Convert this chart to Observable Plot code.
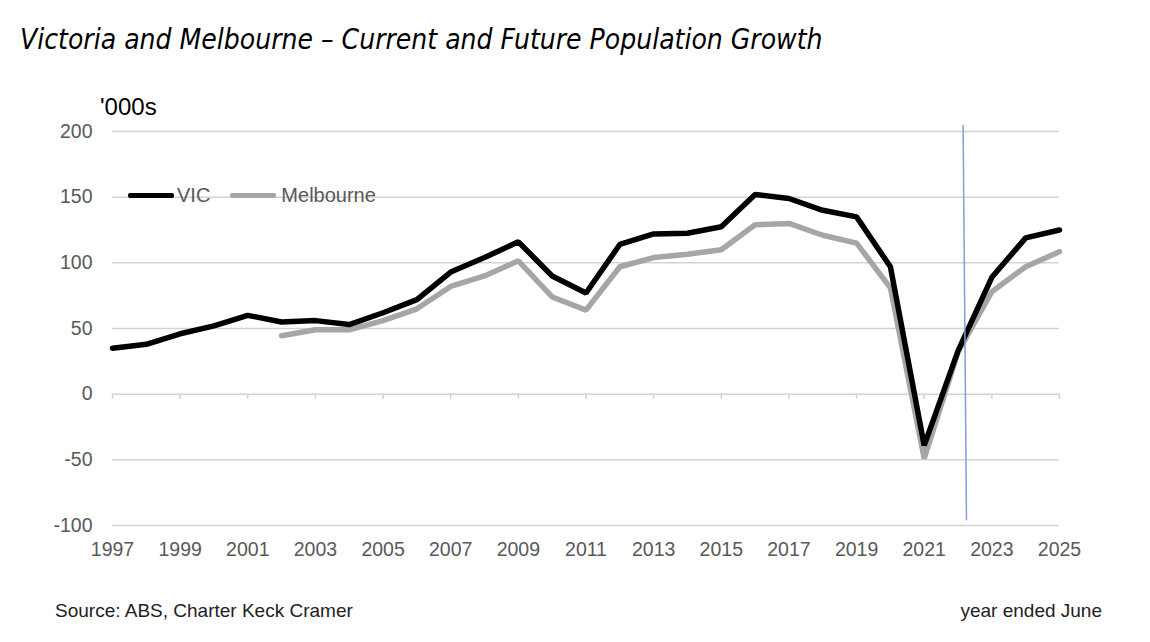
<!DOCTYPE html>
<html>
<head>
<meta charset="utf-8">
<script src="https://cdn.jsdelivr.net/npm/d3@7"></script>
<script src="https://cdn.jsdelivr.net/npm/@observablehq/plot@0.6"></script>
<style>
  html, body { margin: 0; padding: 0; background: #fff; }
  #wrap { position: relative; width: 1150px; height: 642px; overflow: hidden; font-family: "Liberation Sans", Arial, sans-serif; }
  #title { position: absolute; left: 20px; top: 26px; line-height: 1; font-family: "DejaVu Sans Condensed", "DejaVu Sans", sans-serif; font-style: italic; font-size: 28px; color: #000; white-space: nowrap; }
  #chart { position: absolute; left: 0; top: 75px; }
  #unit { position: absolute; left: 100px; top: 95px; line-height: 1; font-size: 24px; color: #000; }
  #legend { position: absolute; left: 128px; top: 185px; line-height: 1; display: flex; align-items: center; font-size: 20px; color: #595959; }
  .sw { display: inline-block; width: 46px; height: 5px; border-radius: 2px; }
  #source { position: absolute; left: 55px; top: 601px; line-height: 1; font-size: 19px; color: #222; }
  #note { position: absolute; right: 48px; top: 601px; line-height: 1; font-size: 19px; color: #222; }
</style>
</head>
<body>
<div id="wrap">
  <div id="title">Victoria and Melbourne – Current and Future Population Growth</div>
  <div id="chart"></div>
  <div id="unit">'000s</div>
  <div id="legend">
    <span class="sw" style="background:#000"></span><span style="margin-left:3px">VIC</span>
    <span class="sw" style="background:#a6a6a6; margin-left:20px"></span><span style="margin-left:5px">Melbourne</span>
  </div>
  <div id="source">Source: ABS, Charter Keck Cramer</div>
  <div id="note">year ended June</div>
</div>
<script>
const vicYears = [1997,1998,1999,2000,2001,2002,2003,2004,2005,2006,2007,2008,2009,2010,2011,2012,2013,2014,2015,2016,2017,2018,2019,2020,2021,2022,2023,2024,2025];
const vicValues = [35,38,46,52,60,55,56,53,62,72,93,104,116,90,77,114,122,122.5,127.5,152,149,140,135,97,-39,33,89,119,125];
const melYears = [2002,2003,2004,2005,2006,2007,2008,2009,2010,2011,2012,2013,2014,2015,2016,2017,2018,2019,2020,2021,2022,2023,2024,2025];
const melValues = [44.5,49,49,56,65,82,90,101.5,74,64,97,104,106.5,110,129,130,121,115,81,-49,32,78,97,108.5];
const yTicks = [-100,-50,0,50,100,150,200];
const xTicks = [1997,1999,2001,2003,2005,2007,2009,2011,2013,2015,2017,2019,2021,2023,2025];
const forecastLine = [{x1: 2022.15, x2: 2022.25, y1: 205, y2: -96}];

const vic = vicYears.map((y, i) => ({year: y, value: vicValues[i]}));
const mel = melYears.map((y, i) => ({year: y, value: melValues[i]}));

const chart = Plot.plot({
  width: 1150,
  height: 500,
  marginLeft: 112,
  marginRight: 91,
  marginTop: 56,
  marginBottom: 50,
  style: {fontFamily: "Liberation Sans, Arial, sans-serif", fontSize: "19.5px", color: "#595959", background: "#fff"},
  x: {domain: [1997, 2025]},
  y: {domain: [-100, 200]},
  marks: [
    Plot.ruleY(yTicks, {stroke: "#d3d3d3", strokeWidth: 1.5}),
    Plot.ruleX(xTicks, {x: d => d, y1: 0, y2: -4, stroke: "#d3d3d3", strokeWidth: 1.5}),
    Plot.axisY(yTicks, {tickSize: 0, tickPadding: 20, tickFormat: d => String(d), label: null, fill: "#595959", fontSize: 19.5}),
    Plot.axisX(xTicks, {tickSize: 0, tickPadding: 17, tickFormat: d => String(d), label: null, fill: "#595959", fontSize: 19.5}),
    Plot.line(mel, {x: "year", y: "value", stroke: "#a6a6a6", strokeWidth: 5.5, strokeLinejoin: "miter"}),
    Plot.line(vic, {x: "year", y: "value", stroke: "#000", strokeWidth: 5.5, strokeLinejoin: "miter"}),
    Plot.link(forecastLine, {x1: "x1", x2: "x2", y1: "y1", y2: "y2", stroke: "#7f9fd8", strokeWidth: 1.5})
  ]
});
document.getElementById("chart").appendChild(chart);
</script>
</body>
</html>
